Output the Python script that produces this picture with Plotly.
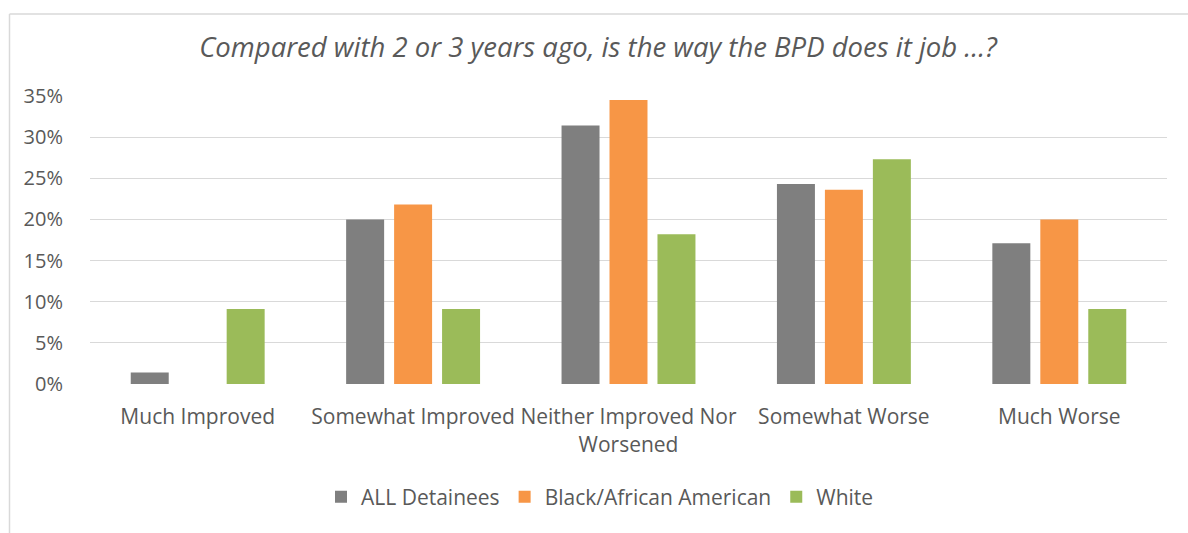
import plotly.graph_objects as go

categories = ["Much Improved", "Somewhat Improved", "Neither Improved Nor<br>Worsened",
              "Somewhat Worse", "Much Worse"]
all_detainees = [0.014, 0.200, 0.314, 0.243, 0.171]
black_aa = [None, 0.218, 0.345, 0.236, 0.200]
white = [0.091, 0.091, 0.182, 0.273, 0.091]
series_names = ["ALL Detainees", "Black/African American", "White"]
colors = ["#7f7f7f", "#f79646", "#9bbb59"]
y_ticks = [0, 0.05, 0.10, 0.15, 0.20, 0.25, 0.30, 0.35]
title_text = "Compared with 2 or 3 years ago, is the way the BPD does it job ...?"

W, H = 1188, 533
L, R, T, B = 90, 21, 96, 149
pw, ph = W - L - R, H - T - B

def px_x(x):
    return (x - L) / pw

def px_y(y):
    return (H - B - y) / ph

fig = go.Figure()
for name, vals, col in zip(series_names, [all_detainees, black_aa, white], colors):
    fig.add_trace(go.Bar(
        x=categories, y=vals, name=name,
        marker=dict(color=col, line=dict(width=0)),
    ))

font_family = "Open Sans, sans-serif"
fig.update_layout(
    width=W, height=H,
    margin=dict(l=L, r=R, t=T, b=B),
    paper_bgcolor="white", plot_bgcolor="white",
    barmode="group", bargap=0.332, bargroupgap=0.208,
    font=dict(family=font_family, color="#595959", size=21),
    title=dict(
        text="<i>" + title_text + "</i>",
        x=px_x(598), xref="paper", xanchor="center",
        y=1 - 47 / H, yref="container", yanchor="middle",
        font=dict(size=27.5, color="#595959", family=font_family),
    ),
    xaxis=dict(
        showgrid=False, zeroline=False, showline=False,
        ticks="outside", ticklen=14, tickcolor="rgba(0,0,0,0)",
        tickfont=dict(size=21, color="#595959"),
    ),
    yaxis=dict(
        range=[0, 0.35], tickvals=y_ticks, tickformat=".0%",
        showgrid=True, gridcolor="#d9d9d9", gridwidth=1.3,
        zeroline=False, showline=False,
        ticks="outside", ticklen=22, tickcolor="rgba(0,0,0,0)",
        tickfont=dict(size=20, color="#595959"),
    ),
    legend=dict(
        orientation="h", x=px_x(600), xanchor="center",
        y=px_y(497), yanchor="middle",
        font=dict(size=21, color="#595959"),
        itemwidth=30, traceorder="normal",
    ),
    showlegend=True,
)

# chart frame (left and top border)
fig.add_shape(type="line", xref="paper", yref="paper",
              x0=px_x(9.5), x1=px_x(9.5), y0=px_y(14), y1=px_y(540),
              line=dict(color="#d9d9d9", width=1.5))
fig.add_shape(type="line", xref="paper", yref="paper",
              x0=px_x(9.5), x1=px_x(1200), y0=px_y(14), y1=px_y(14),
              line=dict(color="#d9d9d9", width=1.5))

fig.write_html("out.html")
